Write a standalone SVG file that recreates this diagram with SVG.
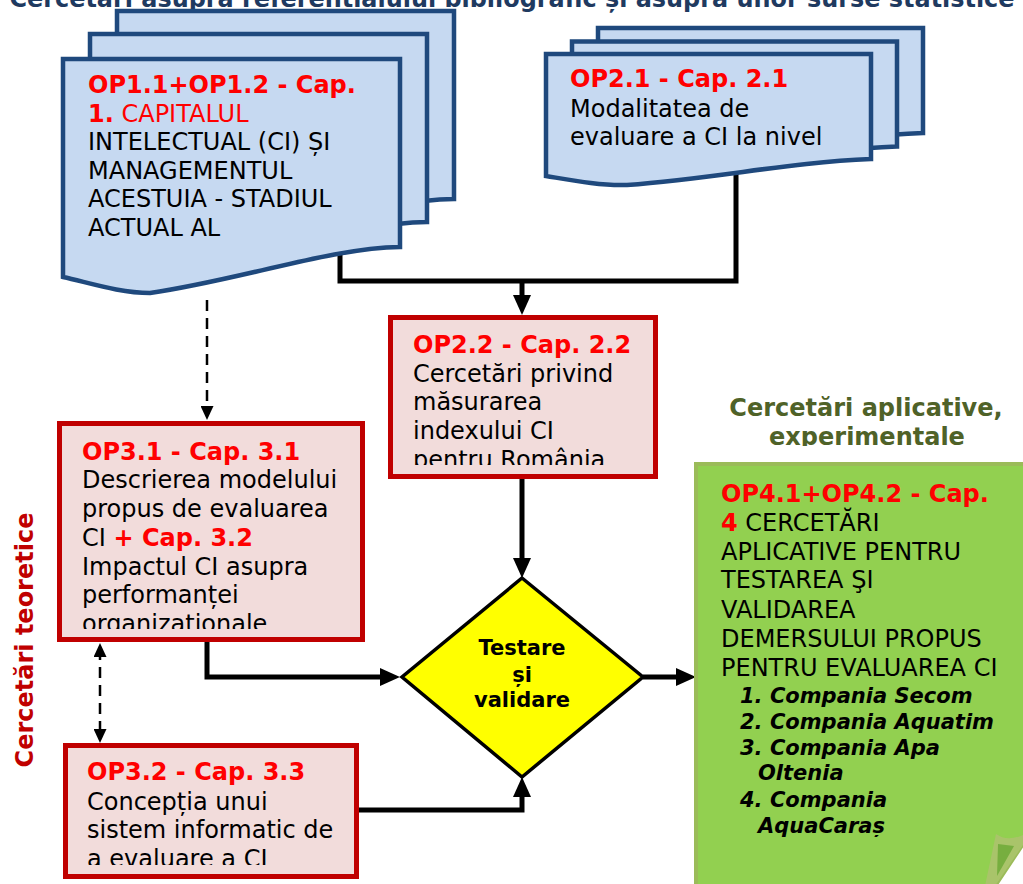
<svg xmlns="http://www.w3.org/2000/svg" width="1023" height="884" viewBox="0 0 1023 884">
  <style>
    .t { font-family: Verdana, "DejaVu Sans", sans-serif; font-size: 24px; fill: #000; }
    .b { font-weight: bold; }
    .red { fill: #FF0000; }
    .doc { fill: #C6D9F1; stroke: #1F497D; stroke-width: 4.5; stroke-linejoin: miter; }
    .box { fill: #F2DCDB; stroke: #C00000; stroke-width: 5; }
    .wire { fill: none; stroke: #000; stroke-width: 5; }
    .dash { fill: none; stroke: #000; stroke-width: 2.5; stroke-dasharray: 11 7; }
  </style>
  <defs>
    <marker id="head" markerUnits="userSpaceOnUse" markerWidth="20" markerHeight="18" refX="12" refY="9" orient="auto">
      <path d="M0,0 L20,9 L0,18 Z" fill="#000"/>
    </marker>
    <marker id="headSmall" markerUnits="userSpaceOnUse" markerWidth="14" markerHeight="13" refX="8" refY="6.5" orient="auto-start-reverse">
      <path d="M0,0 L14,6.5 L0,13 Z" fill="#000"/>
    </marker>
    <path id="docL" d="M63,59 H400 V247 C330,248 240,280 150,293 C120,293 90,283 63,277 Z"/>
    <path id="docR" d="M546,54 H871 V159 C790,162 720,178 627,185 C600,186 570,180 546,176 Z"/>
    <clipPath id="clipOP22"><rect x="390" y="320" width="265" height="145"/></clipPath>
    <clipPath id="clipOP31"><rect x="60" y="424" width="302" height="205"/></clipPath>
    <clipPath id="clipOP32"><rect x="66" y="746" width="290" height="119"/></clipPath>
    <clipPath id="clipHead"><rect x="690" y="380" width="333" height="66"/></clipPath>
    <clipPath id="clipList"><rect x="700" y="480" width="323" height="357"/></clipPath>
  </defs>

  <!-- heading strip, cut by the top edge -->
  <text class="t b" x="512" y="7" text-anchor="middle" textLength="1005" lengthAdjust="spacingAndGlyphs" style="fill:#1F3A60">Cercetări asupra referențialului bibliografic și asupra unor surse statistice</text>

  <!-- connectors -->
  <g id="connectors">
    <path class="wire" d="M340,250 V281 H736 V170"/>
    <path class="wire" d="M522,281 V307" marker-end="url(#head)"/>
    <path class="wire" d="M522,479 V570" marker-end="url(#head)"/>
    <path class="wire" d="M207,642 V677 H392" marker-end="url(#head)"/>
    <path class="wire" d="M358,810 H522 V785" marker-end="url(#head)"/>
    <path class="wire" d="M643,677 H688" marker-end="url(#head)"/>
    <path class="dash" d="M207,300 V414" marker-end="url(#headSmall)"/>
    <path class="dash" d="M100,649 V737" marker-start="url(#headSmall)" marker-end="url(#headSmall)"/>
  </g>

  <!-- side label -->
  <text class="t b" transform="translate(33,640) rotate(-90)" x="0" y="0" text-anchor="middle" style="fill:#C00000">Cercetări teoretice</text>

  <!-- OP1 document stack -->
  <g id="op1">
    <use href="#docL" class="doc" transform="translate(54,-48)"/>
    <use href="#docL" class="doc" transform="translate(27,-25)"/>
    <use href="#docL" class="doc"/>
    <text class="t" x="88" y="93"><tspan class="b red">OP1.1+OP1.2 - Cap.</tspan></text>
    <text class="t" x="88" y="122"><tspan class="b red">1.</tspan><tspan class="red"> CAPITALUL</tspan></text>
    <text class="t" x="88" y="150">INTELECTUAL (CI) ȘI</text>
    <text class="t" x="88" y="179">MANAGEMENTUL</text>
    <text class="t" x="88" y="207">ACESTUIA - STADIUL</text>
    <text class="t" x="88" y="236">ACTUAL AL</text>
  </g>

  <!-- OP2.1 document stack -->
  <g id="op21">
    <use href="#docR" class="doc" transform="translate(52,-26)"/>
    <use href="#docR" class="doc" transform="translate(26,-12.5)"/>
    <use href="#docR" class="doc"/>
    <text class="t b red" x="570" y="87">OP2.1 - Cap. 2.1</text>
    <text class="t" x="570" y="117">Modalitatea de</text>
    <text class="t" x="570" y="145">evaluare a CI la nivel</text>
  </g>

  <!-- OP2.2 -->
  <g id="op22">
    <rect class="box" x="390.5" y="317.5" width="265" height="159"/>
    <g clip-path="url(#clipOP22)">
      <text class="t b red" x="413" y="353">OP2.2 - Cap. 2.2</text>
      <text class="t" x="413" y="382">Cercetări privind</text>
      <text class="t" x="413" y="410">măsurarea</text>
      <text class="t" x="413" y="439">indexului CI</text>
      <text class="t" x="413" y="468">pentru România</text>
    </g>
  </g>

  <!-- OP3.1 -->
  <g id="op31">
    <rect class="box" x="59.5" y="423.5" width="303" height="216"/>
    <g clip-path="url(#clipOP31)">
      <text class="t b red" x="82" y="460">OP3.1 - Cap. 3.1</text>
      <text class="t" x="82" y="488">Descrierea modelului</text>
      <text class="t" x="82" y="517">propus de evaluarea</text>
      <text class="t" x="82" y="546">CI <tspan class="b red">+ Cap. 3.2</tspan></text>
      <text class="t" x="82" y="575">Impactul CI asupra</text>
      <text class="t" x="82" y="603">performanței</text>
      <text class="t" x="82" y="632">organizaționale</text>
    </g>
  </g>

  <!-- OP3.2 -->
  <g id="op32">
    <rect class="box" x="65.5" y="745.5" width="291" height="131"/>
    <g clip-path="url(#clipOP32)">
      <text class="t b red" x="87" y="780">OP3.2 - Cap. 3.3</text>
      <text class="t" x="87" y="810">Concepția unui</text>
      <text class="t" x="87" y="838">sistem informatic de</text>
      <text class="t" x="87" y="867">a evaluare a CI</text>
    </g>
  </g>

  <!-- decision -->
  <g id="decision">
    <polygon points="522,578 643,677 522,777 402,677" fill="#FFFF00" stroke="#000" stroke-width="3.5"/>
    <text class="t b" x="522" y="655" text-anchor="middle" style="font-size:21px">Testare</text>
    <text class="t b" x="522" y="682" text-anchor="middle" style="font-size:21px">și</text>
    <text class="t b" x="522" y="707" text-anchor="middle" style="font-size:21px">validare</text>
  </g>

  <!-- OP4 applied research note -->
  <g id="op4">
    <g clip-path="url(#clipHead)">
      <text class="t b" x="866" y="416" text-anchor="middle" style="fill:#4F6228">Cercetări aplicative,</text>
      <text class="t b" x="867" y="445" text-anchor="middle" style="fill:#4F6228">experimentale</text>
    </g>
    <path d="M696,464 H1027 V838 L993,889 H696 Z" fill="#92D050" stroke="#9BBB59" stroke-width="4"/>
    <path d="M996,834 Q1007,842 1023,835 V845 L995,886 H985 Z" fill="#A9C46A"/>
    <path d="M998,844 L1014,846 L997,876 Z" fill="#77AE3F"/>
    <text class="t b red" x="721" y="502">OP4.1+OP4.2 - Cap.</text>
    <text class="t" x="721" y="531"><tspan class="b red">4</tspan> CERCETĂRI</text>
    <text class="t" x="721" y="560">APLICATIVE PENTRU</text>
    <text class="t" x="721" y="588">TESTAREA ŞI</text>
    <text class="t" x="721" y="618">VALIDAREA</text>
    <text class="t" x="721" y="647">DEMERSULUI PROPUS</text>
    <text class="t" x="721" y="676">PENTRU EVALUAREA CI</text>
    <g clip-path="url(#clipList)" style="font-size:21px; font-weight:bold; font-style:italic">
      <text class="t" x="740" y="703" style="font-size:21px">1. Compania Secom</text>
      <text class="t" x="740" y="729" style="font-size:21px">2. Compania Aquatim</text>
      <text class="t" x="740" y="755" style="font-size:21px">3. Compania Apa</text>
      <text class="t" x="758" y="780" style="font-size:21px">Oltenia</text>
      <text class="t" x="740" y="807" style="font-size:21px">4. Compania</text>
      <text class="t" x="758" y="833" style="font-size:21px">AquaCaraș</text>
    </g>
  </g>
</svg>
